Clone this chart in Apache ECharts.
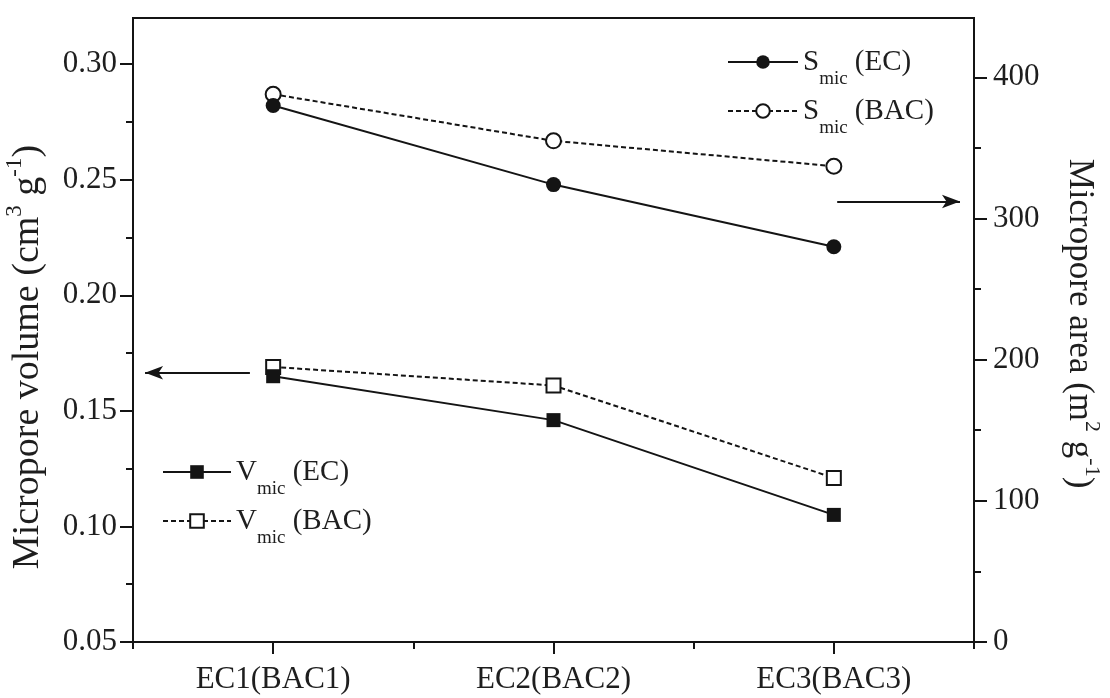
<!DOCTYPE html>
<html>
<head>
<meta charset="utf-8">
<script src="https://cdn.jsdelivr.net/npm/echarts@6/dist/echarts.min.js"></script>
<style>html,body{margin:0;padding:0;background:#fff;}#c{width:1110px;height:698px;}</style>
</head>
<body>
<div id="c"></div>
<script>
// ---- data ----
const categories = ['EC1(BAC1)', 'EC2(BAC2)', 'EC3(BAC3)'];
const vmicEC = [0.165, 0.146, 0.105];
const vmicBAC = [0.169, 0.161, 0.121];
const smicEC = [380, 324, 280];
const smicBAC = [388, 355, 337];
const leftTicks = [0.05, 0.10, 0.15, 0.20, 0.25, 0.30];
const leftMinorTicks = [0.075, 0.125, 0.175, 0.225, 0.275];
const rightTicks = [0, 100, 200, 300, 400];
const rightMinorTicks = [50, 150, 250, 350];
// arrow annotations (x in category-index units, y in axis units)
const volumeArrow = [[-0.083, 0.1665], [-0.457, 0.1665]];
const areaArrow = [[2.012, 312], [2.45, 312]];

const INK = '#141414';
const TEXT = '#1e1e1e';
const FONT = 'Liberation Serif';

const chart = echarts.init(document.getElementById('c'), null, {renderer: 'canvas'});

function legendFmt(name) {
  return name.replace(/^(\w)mic/, '$1{s|mic}');
}
const legendText = {
  fontSize: 29, fontFamily: FONT, color: TEXT, lineHeight: 41,
  rich: { s: { fontSize: 19, fontFamily: FONT, color: TEXT, verticalAlign: 'top', padding: [28, 0, 0, 0], lineHeight: 41 } }
};
const tickStyle = { color: INK, width: 2 };
const labelStyle = { fontSize: 31, fontFamily: FONT, color: TEXT };

const option = {
  animation: false,
  backgroundColor: '#fff',
  grid: { left: 133, right: 136, top: 18, bottom: 56, show: true, borderColor: INK, borderWidth: 2, containLabel: false, outerBoundsMode: 'none' },
  legend: [
    {
      data: ['Smic (EC)', 'Smic (BAC)'], orient: 'vertical', left: 727, top: 41.5, padding: 0,
      itemWidth: 70, itemHeight: 17, itemGap: 2, selectedMode: false,
      formatter: legendFmt, textStyle: legendText
    },
    {
      data: ['Vmic (EC)', 'Vmic (BAC)'], orient: 'vertical', left: 162, top: 451.5, padding: 0,
      itemWidth: 68, itemHeight: 17, itemGap: 2, selectedMode: false,
      formatter: legendFmt, textStyle: legendText
    }
  ],
  xAxis: [
    {
      type: 'category', data: categories, position: 'bottom', boundaryGap: true,
      axisLine: { show: true, onZero: false, lineStyle: tickStyle },
      axisTick: { show: true, alignWithLabel: true, length: 12, lineStyle: tickStyle },
      axisLabel: Object.assign({ margin: 22, interval: 0 }, labelStyle),
      splitLine: { show: false }
    },
    {
      type: 'category', data: categories, position: 'bottom', boundaryGap: true,
      axisLine: { show: false, onZero: false },
      axisTick: { show: true, length: 7, lineStyle: tickStyle },
      axisLabel: { show: false }, splitLine: { show: false }
    },
    { type: 'value', min: -0.5, max: 2.5, position: 'bottom', show: false, axisLine: { onZero: false } }
  ],
  yAxis: [
    {
      type: 'value', position: 'left', min: 0.05, max: 0.32,
      axisLine: { show: true, onZero: false, lineStyle: tickStyle },
      axisTick: { show: true, customValues: leftTicks, length: 13, lineStyle: tickStyle },
      axisLabel: Object.assign({ customValues: leftTicks, margin: 16, formatter: v => v.toFixed(2) }, labelStyle),
      splitLine: { show: false },
      name: 'Micropore volume (cm{sup|3} g{sup|-1})', nameLocation: 'middle', nameGap: 75,
      nameTextStyle: {
        fontSize: 38, fontFamily: FONT, color: TEXT, lineHeight: 48, padding: [0, 54, 0, 0],
        rich: { sup: { fontSize: 23, fontFamily: FONT, color: TEXT, verticalAlign: 'top', lineHeight: 48 } }
      }
    },
    {
      type: 'value', position: 'right', min: 0, max: 442,
      axisLine: { show: true, onZero: false, lineStyle: tickStyle },
      axisTick: { show: true, customValues: rightTicks, length: 13, lineStyle: tickStyle },
      axisLabel: Object.assign({ customValues: rightTicks, margin: 19 }, labelStyle),
      splitLine: { show: false },
      name: 'Micropore area (m{sup|2} g{sup|-1})', nameLocation: 'middle', nameGap: 81, nameRotate: -90,
      nameTextStyle: {
        fontSize: 35, fontFamily: FONT, color: TEXT, lineHeight: 48, padding: [0, 13, 0, 0],
        rich: { sup: { fontSize: 22, fontFamily: FONT, color: TEXT, verticalAlign: 'top', lineHeight: 48 } }
      }
    },
    {
      type: 'value', position: 'left', min: 0.05, max: 0.32,
      axisLine: { show: false, onZero: false },
      axisTick: { show: true, customValues: leftMinorTicks, length: 7, lineStyle: tickStyle },
      axisLabel: { show: false }, splitLine: { show: false }
    },
    {
      type: 'value', position: 'right', min: 0, max: 442,
      axisLine: { show: false, onZero: false },
      axisTick: { show: true, customValues: rightMinorTicks, length: 7, lineStyle: tickStyle },
      axisLabel: { show: false }, splitLine: { show: false }
    }
  ],
  series: [
    {
      name: 'Vmic (BAC)', type: 'line', xAxisIndex: 0, yAxisIndex: 0, data: vmicBAC,
      symbol: 'emptyRect', symbolSize: 14, color: INK,
      itemStyle: { color: INK, borderWidth: 2 },
      lineStyle: { color: INK, width: 2, type: [5, 3] }
    },
    {
      name: 'Vmic (EC)', type: 'line', xAxisIndex: 0, yAxisIndex: 0, data: vmicEC,
      symbol: 'rect', symbolSize: 14, color: INK,
      itemStyle: { color: INK },
      lineStyle: { color: INK, width: 2, type: 'solid' }
    },
    {
      name: 'Smic (BAC)', type: 'line', xAxisIndex: 0, yAxisIndex: 1, data: smicBAC,
      symbol: 'emptyCircle', symbolSize: 15, color: INK,
      itemStyle: { color: INK, borderWidth: 2 },
      lineStyle: { color: INK, width: 2, type: [5, 3] }
    },
    {
      name: 'Smic (EC)', type: 'line', xAxisIndex: 0, yAxisIndex: 1, data: smicEC,
      symbol: 'circle', symbolSize: 15, color: INK,
      itemStyle: { color: INK },
      lineStyle: { color: INK, width: 2, type: 'solid' }
    },
    {
      name: 'arrowV', type: 'line', xAxisIndex: 2, yAxisIndex: 0, data: [], silent: true,
      markLine: {
        silent: true, animation: false, symbol: ['none', 'arrow'], symbolSize: [10, 18],
        label: { show: false }, lineStyle: { color: INK, width: 2, type: 'solid' },
        data: [[{ coord: volumeArrow[0] }, { coord: volumeArrow[1] }]]
      }
    },
    {
      name: 'arrowS', type: 'line', xAxisIndex: 2, yAxisIndex: 1, data: [], silent: true,
      markLine: {
        silent: true, animation: false, symbol: ['none', 'arrow'], symbolSize: [10, 18],
        label: { show: false }, lineStyle: { color: INK, width: 2, type: 'solid' },
        data: [[{ coord: areaArrow[0] }, { coord: areaArrow[1] }]]
      }
    }
  ]
};
chart.setOption(option);
</script>
</body>
</html>
